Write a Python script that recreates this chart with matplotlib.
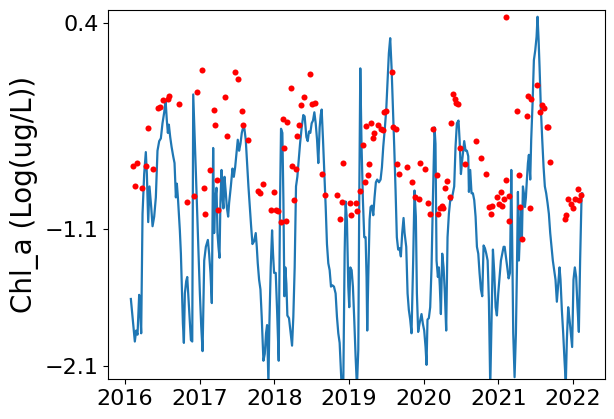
import datetime as dt

import matplotlib
matplotlib.use("Agg")
import matplotlib.pyplot as plt
import matplotlib.dates as mdates

# modelled series (decimal year, log chl_a)
model_t = [
    2016.077, 2016.130, 2016.148, 2016.166, 2016.188, 2016.201, 2016.215, 2016.233, 2016.255, 2016.277,
    2016.291, 2016.309, 2016.326, 2016.349, 2016.367, 2016.389, 2016.411, 2016.433, 2016.456, 2016.478,
    2016.500, 2016.523, 2016.541, 2016.558, 2016.572, 2016.585, 2016.603, 2016.621, 2016.643, 2016.661,
    2016.679, 2016.692, 2016.706, 2016.719, 2016.732, 2016.746, 2016.759, 2016.773, 2016.786, 2016.799,
    2016.817, 2016.831, 2016.844, 2016.862, 2016.880, 2016.898, 2016.911, 2016.929, 2016.947, 2016.964,
    2016.982, 2017.000, 2017.018, 2017.036,
    2017.058, 2017.080, 2017.107, 2017.124, 2017.142, 2017.160, 2017.178, 2017.191, 2017.205, 2017.223,
    2017.236, 2017.249, 2017.263, 2017.276, 2017.290, 2017.303, 2017.316, 2017.330, 2017.348, 2017.361,
    2017.379, 2017.392, 2017.415, 2017.437, 2017.455, 2017.473, 2017.490, 2017.508, 2017.526, 2017.544,
    2017.562, 2017.580, 2017.597, 2017.615, 2017.633, 2017.651, 2017.669, 2017.687, 2017.705, 2017.727,
    2017.749, 2017.763, 2017.776, 2017.794, 2017.812, 2017.829, 2017.852, 2017.870, 2017.887, 2017.901,
    2017.919, 2017.932, 2017.950, 2017.968, 2017.981, 2017.995,
    2018.017, 2018.035, 2018.057, 2018.075, 2018.088, 2018.106, 2018.120, 2018.133, 2018.146, 2018.160,
    2018.173, 2018.195, 2018.218, 2018.236, 2018.253, 2018.271, 2018.289, 2018.307, 2018.325, 2018.343,
    2018.365, 2018.387, 2018.405, 2018.428, 2018.446, 2018.463, 2018.481, 2018.499, 2018.517, 2018.535,
    2018.553, 2018.571, 2018.588, 2018.606, 2018.620, 2018.633, 2018.651, 2018.669, 2018.687, 2018.704,
    2018.722, 2018.740, 2018.758, 2018.776, 2018.798, 2018.820, 2018.838, 2018.856, 2018.874, 2018.887,
    2018.901, 2018.923, 2018.941, 2018.954, 2018.972, 2018.990,
    2019.003, 2019.017, 2019.035, 2019.052, 2019.070, 2019.088, 2019.106, 2019.124, 2019.137, 2019.151,
    2019.168, 2019.186, 2019.204, 2019.222, 2019.235, 2019.244, 2019.258, 2019.276, 2019.289, 2019.307,
    2019.325, 2019.342, 2019.360, 2019.378, 2019.401, 2019.423, 2019.441, 2019.459, 2019.481, 2019.499,
    2019.517, 2019.534, 2019.552, 2019.570, 2019.588, 2019.606, 2019.624, 2019.641, 2019.659, 2019.677,
    2019.695, 2019.713, 2019.731, 2019.745, 2019.767, 2019.785, 2019.802, 2019.820, 2019.838, 2019.860,
    2019.878, 2019.896, 2019.910, 2019.927, 2019.945, 2019.972, 2019.990,
    2020.008, 2020.026, 2020.039, 2020.052, 2020.070, 2020.088, 2020.106, 2020.124, 2020.146, 2020.159,
    2020.173, 2020.191, 2020.204, 2020.217, 2020.231, 2020.249, 2020.267, 2020.284, 2020.302, 2020.320,
    2020.338, 2020.356, 2020.374, 2020.391, 2020.409, 2020.427, 2020.445, 2020.467, 2020.481, 2020.499,
    2020.516, 2020.530, 2020.543, 2020.561, 2020.579, 2020.597, 2020.606, 2020.623, 2020.641, 2020.659,
    2020.677, 2020.695, 2020.713, 2020.731, 2020.748, 2020.766, 2020.784, 2020.802, 2020.820, 2020.838,
    2020.856, 2020.873, 2020.891, 2020.909, 2020.927, 2020.945, 2020.963, 2020.980, 2020.998,
    2021.016, 2021.034, 2021.052, 2021.070, 2021.084, 2021.101, 2021.119, 2021.137, 2021.155, 2021.173,
    2021.186, 2021.199, 2021.217, 2021.235, 2021.249, 2021.262, 2021.275, 2021.289, 2021.302, 2021.315,
    2021.329, 2021.342, 2021.356, 2021.369, 2021.382, 2021.396, 2021.409, 2021.427, 2021.440, 2021.458,
    2021.476, 2021.494, 2021.512, 2021.525, 2021.539, 2021.552, 2021.570, 2021.588, 2021.606, 2021.623,
    2021.641, 2021.659, 2021.677, 2021.695, 2021.713, 2021.730, 2021.748, 2021.766, 2021.784, 2021.802,
    2021.820, 2021.833, 2021.851, 2021.869, 2021.887, 2021.904, 2021.918, 2021.936, 2021.954, 2021.971,
    2021.989, 2022.007, 2022.025, 2022.043, 2022.061, 2022.079, 2022.096, 2022.114, 2022.123,
]
model_v = [
    -1.61, -1.92, -1.84, -1.87, -1.58, -1.69, -1.86, -0.99, -0.70, -0.54,
    -0.70, -1.05, -0.79, -0.94, -1.08, -1.01, -0.87, -0.53, -0.46, -0.44,
    -0.33, -0.25, -0.16, -0.31, -0.40, -0.34, -0.43, -0.50, -0.57, -0.62,
    -0.87, -0.77, -0.87, -0.99, -1.11, -1.28, -1.52, -1.79, -1.93, -1.57,
    -1.48, -1.45, -1.57, -1.74, -1.91, -1.92, -0.12, -0.40, -0.70, -0.99,
    -1.28, -1.57, -1.81, -1.99,
    -1.33, -1.23, -1.18, -1.28, -1.42, -1.64, -0.51, -1.13, -0.89, -0.80,
    -1.13, -1.23, -1.31, -0.89, -0.67, -0.87, -0.95, -0.72, -0.84, -0.94,
    -1.01, -0.91, -0.79, -0.66, -0.72, -0.65, -0.55, -0.45, -0.53, -0.48,
    -0.40, -0.36, -0.37, -0.45, -0.62, -0.79, -0.94, -1.08, -1.21, -1.19,
    -1.13, -1.23, -1.35, -1.47, -1.54, -1.74, -2.06, -2.01, -1.86, -1.80,
    -2.23, -1.79, -1.38, -1.11, -1.28, -1.42,
    -1.42, -1.69, -2.06, -0.89, -0.37, -0.40, -0.89, -1.59, -1.38, -1.50,
    -1.73, -1.75, -1.86, -1.95, -1.74, -1.38, -0.79, -0.72, -0.60, -0.48,
    -0.36, -0.27, -0.28, -0.43, -0.46, -0.39, -0.40, -0.33, -0.31, -0.25,
    -0.33, -0.45, -0.62, -0.36, -0.27, -0.23, -0.45, -0.70, -0.94, -1.21,
    -1.35, -1.40, -1.52, -1.51, -1.52, -1.57, -1.74, -1.86, -1.93, -2.08,
    -2.25, -2.23, -1.28, -0.90, -1.04, -1.52,
    -1.67, -1.38, -1.40, -1.52, -1.76, -2.03, -2.25, -1.98, -0.89, 0.07,
    -0.50, -0.89, -1.16, -1.16, -1.45, -1.84, -1.45, -1.03, -0.94, -0.93,
    -1.00, -0.87, -0.76, -0.74, -0.76, -0.74, -0.65, -0.50, -0.36, -0.23,
    -0.02, 0.18, 0.29, 0.08, -0.21, -0.50, -0.82, -1.16, -1.25, -1.24,
    -1.30, -1.13, -1.02, -1.13, -1.23, -1.57, -1.69, -1.76, -1.86, -1.33,
    -0.82, -1.01, -1.57, -1.85, -1.79, -1.72, -1.79,
    -1.84, -1.96, -2.09, -1.76, -1.75, -1.67, -1.38, -0.89, -0.36, -0.48,
    -1.33, -1.45, -1.38, -1.52, -1.72, -1.28, -1.38, -1.57, -1.84, -1.16,
    -0.99, -0.89, -0.89, -0.84, -0.79, -0.50, -0.33, -0.31, -0.45, -0.70,
    -0.60, -0.53, -0.46, -0.53, -0.53, -0.57, -0.83, -0.67, -0.84, -0.84,
    -0.89, -1.01, -1.23, -1.28, -1.42, -1.54, -1.59, -1.22, -1.24, -1.28,
    -1.33, -1.62, -2.25, -1.76, -1.25, -1.42, -1.67, -1.73, -1.57,
    -1.45, -1.33, -1.28, -1.23, -1.23, -1.30, -1.38, -1.46, -1.42, -0.67,
    -1.23, -1.86, -2.18, -1.86, -1.38, -0.83, -1.33, -1.13, -0.95, -1.18,
    -0.79, -0.84, -0.94, -0.87, -0.74, -0.62, -0.56, -0.74, -0.45, -0.19,
    0.13, 0.20, 0.30, 0.446, 0.28, 0.08, -0.23, -0.45, -0.65, -0.79,
    -0.84, -0.91, -0.99, -1.13, -1.23, -1.33, -1.40, -1.47, -1.63, -1.50,
    -1.38, -1.47, -1.69, -1.86, -2.06, -2.23, -1.91, -1.67, -1.76, -1.86,
    -1.96, -1.47, -1.38, -1.45, -1.67, -1.85, -1.33, -0.89, -0.84,
]

# observations
obs_t = [
    2016.103, 2016.135, 2016.161, 2016.224, 2016.277, 2016.309, 2016.375, 2016.438, 2016.469, 2016.505,
    2016.567, 2016.590, 2016.724, 2016.826, 2016.915, 2016.956, 2017.027, 2017.054, 2017.063,
    2017.133, 2017.191, 2017.205, 2017.232, 2017.249, 2017.339, 2017.365, 2017.473, 2017.508, 2017.566,
    2017.580, 2017.651, 2017.780, 2017.807, 2017.847, 2017.954, 2017.995,
    2018.026, 2018.053, 2018.093, 2018.115, 2018.133, 2018.151, 2018.169, 2018.227, 2018.240, 2018.258,
    2018.285, 2018.302, 2018.329, 2018.356, 2018.392, 2018.472, 2018.499, 2018.544, 2018.633, 2018.678,
    2018.838, 2018.878, 2018.905, 2018.923,
    2019.012, 2019.030, 2019.093, 2019.110, 2019.146, 2019.191, 2019.218, 2019.226, 2019.249, 2019.267,
    2019.293, 2019.320, 2019.334, 2019.387, 2019.427, 2019.454, 2019.467, 2019.499, 2019.579, 2019.592,
    2019.633, 2019.641, 2019.668, 2019.776, 2019.838, 2019.883, 2019.936, 2019.950,
    2020.017, 2020.057, 2020.079, 2020.124, 2020.182, 2020.195, 2020.213, 2020.240, 2020.262, 2020.284,
    2020.307, 2020.351, 2020.369, 2020.391, 2020.414, 2020.436, 2020.458, 2020.485, 2020.548, 2020.699,
    2020.766, 2020.829, 2020.873, 2020.900, 2020.918, 2020.976,
    2021.007, 2021.034, 2021.052, 2021.074, 2021.096, 2021.096, 2021.137, 2021.146, 2021.249, 2021.275,
    2021.293, 2021.320, 2021.382, 2021.396, 2021.423, 2021.440, 2021.521, 2021.552, 2021.583, 2021.606,
    2021.646, 2021.664, 2021.690, 2021.887, 2021.904, 2021.931, 2021.971, 2021.998,
    2022.034, 2022.065, 2022.083, 2022.110,
]
obs_v = [
    -0.64, -0.79, -0.62, -0.80, -0.64, -0.365, -0.66, -0.22, -0.21, -0.16,
    -0.15, -0.13, -0.19, -0.90, -0.86, -0.10, 0.055, -0.80, -0.99,
    -0.67, -0.23, -0.34, -0.74, -0.96, -0.14, -0.42, 0.04, -0.01, -0.24,
    -0.34, -0.45, -0.82, -0.84, -0.77, -0.96, -0.83,
    -0.96, -0.97, -1.05, -0.30, -0.51, -1.04, -0.32, -0.07, -0.64, -0.89,
    -0.66, -0.42, -0.34, -0.20, -0.14, 0.03, -0.19, -0.18, -0.70, -0.85,
    -0.85, -1.03, -0.90, -0.62,
    -0.91, -1.00, -0.91, -0.97, -0.82, -0.49, -0.76, -0.35, -0.71, -0.63,
    -0.33, -0.44, -0.40, -0.34, -0.37, -0.38, -0.25, -0.24, 0.04, -0.36,
    -0.37, -0.63, -0.70, -0.65, -0.76, -0.87, -0.88, -0.62,
    -0.66, -0.91, -0.99, -0.37, -0.71, -0.99, -0.95, -0.93, -0.95, -0.80,
    -0.75, -0.87, -0.33, -0.12, -0.15, -0.18, -0.19, -0.51, -0.63, -0.46,
    -0.58, -0.70, -0.94, -0.99, -0.93, -0.87,
    -0.92, -0.83, -0.93, -0.88, -0.74, 0.446, -1.04, -0.86, -0.24, -0.71,
    -0.94, -1.17, -0.28, -0.13, -0.95, -0.15, -0.05, -0.25, -0.20, -0.22,
    -0.36, -0.36, -0.61, -1.03, -1.00, -0.88, -0.92, -0.95,
    -0.88, -0.81, -0.89, -0.85,
]

y_ticks = [-2.1, -1.1, 0.4]


def to_date(year_frac):
    year = int(year_frac)
    start = dt.datetime(year, 1, 1)
    n_days = (dt.datetime(year + 1, 1, 1) - start).days
    return start + dt.timedelta(days=(year_frac - year) * n_days)


model_dates = [to_date(t) for t in model_t]
obs_dates = [to_date(t) for t in obs_t]

fig = plt.figure(figsize=(6.14, 4.19), dpi=100)
ax = fig.add_axes([108.3 / 614, 40 / 419, 496.4 / 614, 368.7 / 419])

ax.plot(model_dates, model_v, color="tab:blue", linewidth=1.6)
ax.scatter(obs_dates, obs_v, color="red", s=19, linewidths=0, zorder=3)

ax.set_ylim(-2.193, 0.493)
ax.set_yticks(y_ticks)
ax.set_yticklabels([f"{v:.1f}".replace("-", "\u2212") for v in y_ticks])
ax.xaxis.set_major_locator(mdates.YearLocator())
ax.xaxis.set_major_formatter(mdates.DateFormatter("%Y"))
ax.tick_params(labelsize=16)
ax.set_ylabel("Chl_a (Log(ug/L))", fontsize=20)

fig.savefig("out.png", dpi=100)
